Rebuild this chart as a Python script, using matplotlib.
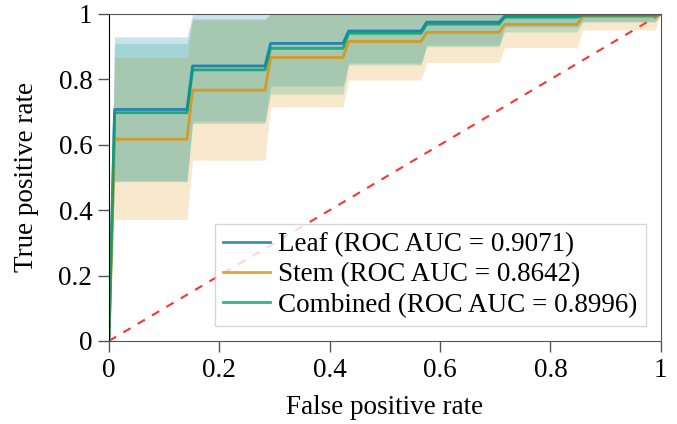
import numpy as np
import matplotlib
matplotlib.use("Agg")
import matplotlib.pyplot as plt

plt.rcParams['font.family'] = ['Liberation Serif', 'DejaVu Serif']
plt.rcParams['font.size'] = 19.5

# step breakpoints of the mean ROC curves (false positive rate)
fpr = [0, 0.0101, 0.1414, 0.1515, 0.2828, 0.2929, 0.4242, 0.4343,
       0.5657, 0.5758, 0.7071, 0.7172, 0.8485, 0.8586, 0.9899, 1.0]

# mean tpr level on each of the 7 steps, and the band (lower / upper)
leaf_tpr = [0.708, 0.841, 0.910, 0.948, 0.975, 0.994, 0.997]
leaf_lo = [0.490, 0.672, 0.780, 0.850, 0.905, 0.960, 0.978]
leaf_hi = [0.930, 1.000, 1.000, 1.000, 1.000, 1.000, 1.000]

stem_tpr = [0.617, 0.767, 0.867, 0.916, 0.944, 0.968, 0.992]
stem_lo = [0.372, 0.553, 0.716, 0.798, 0.852, 0.897, 0.951]
stem_hi = [0.867, 0.982, 1.000, 1.000, 1.000, 1.000, 1.000]

comb_tpr = [0.698, 0.829, 0.895, 0.941, 0.969, 0.990, 0.996]
comb_lo = [0.487, 0.665, 0.755, 0.844, 0.900, 0.945, 0.975]
comb_hi = [0.910, 0.985, 1.000, 1.000, 1.000, 1.000, 1.000]

names = ['Leaf', 'Stem', 'Combined']
aucs = [0.9071, 0.8642, 0.8996]
colors = ['#0173b2', '#de8f05', '#029e73']


def steps(levels):
    # each level is held between two breakpoints; curve starts at 0, ends at 1
    return np.concatenate([[0], np.repeat(levels, 2), [1]])


series = [(leaf_tpr, leaf_lo, leaf_hi), (stem_tpr, stem_lo, stem_hi),
          (comb_tpr, comb_lo, comb_hi)]

fig, ax = plt.subplots(figsize=(6.77, 4.24), dpi=100)
fig.subplots_adjust(left=0.161, right=0.976, top=0.967, bottom=0.196)

ax.plot([0, 1], [0, 1], linestyle='--', color='r', alpha=0.8, lw=1.5,
        dashes=(4, 4), zorder=1)

for (m, lo, hi), name, auc, c in zip(series, names, aucs, colors):
    ax.fill_between(fpr, steps(lo), steps(hi), color=c, alpha=0.2, lw=0)
    ax.plot(fpr, steps(m), color=c, lw=2, alpha=0.8,
            label='%s (ROC AUC = %.4f)' % (name, auc))

ax.set_xlim(0, 1)
ax.set_ylim(0, 1)
ax.set_xticks([0, 0.2, 0.4, 0.6, 0.8, 1])
ax.set_xticklabels(['0', '0.2', '0.4', '0.6', '0.8', '1'])
ax.set_yticks([0, 0.2, 0.4, 0.6, 0.8, 1])
ax.set_yticklabels(['0', '0.2', '0.4', '0.6', '0.8', '1'])
ax.tick_params(direction='out', length=8, width=1, color='#555555', pad=4)
for s in ax.spines.values():
    s.set_color('#555555')
ax.spines['left'].set_color('black')

ax.set_xlabel('False positive rate', labelpad=9)
ax.set_ylabel('True positive rate', labelpad=14)

leg = ax.legend(loc='lower right', fancybox=False, framealpha=0.8,
                edgecolor='#cccccc', handlelength=1.75, handletextpad=0.3,
                labelspacing=0.2, borderpad=0.3, borderaxespad=0.55)

fig.savefig('out.png', dpi=100)
